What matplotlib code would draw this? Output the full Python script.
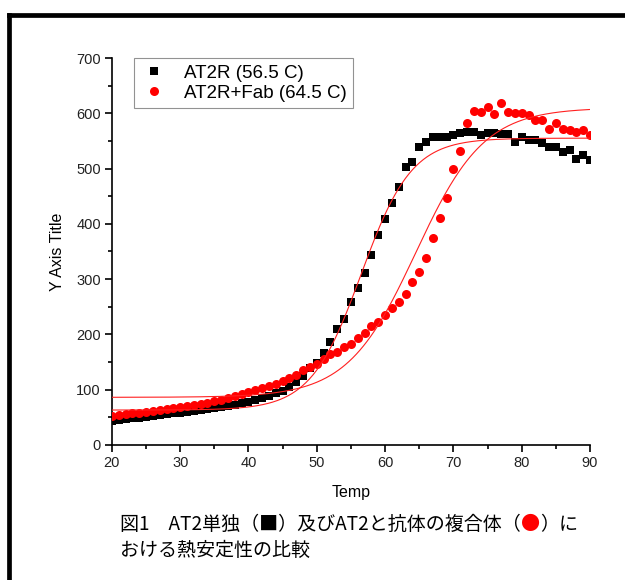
import matplotlib.pyplot as plt
import numpy as np
from matplotlib.lines import Line2D

# temperature axis (one reading per degree)
temp = np.arange(20, 91)

at2r = [43, 45, 46, 48, 49, 51, 52, 54, 55, 57,
        58, 60, 61, 63, 65, 67, 69, 71, 73, 75,
        78, 81, 85, 89, 93, 98, 104, 113, 125, 139,
        149, 166, 187, 209, 228, 259, 284, 311, 343, 380,
        409, 438, 467, 503, 512, 539, 548, 557, 557, 557,
        560, 564, 566, 566, 561, 564, 564, 562, 562, 548,
        557, 551, 551, 546, 539, 539, 530, 533, 517, 524,
        515]

at2r_fab = [52, 54, 55, 57, 58, 60, 61, 63, 64, 66,
            68, 70, 72, 74, 76, 79, 82, 85, 88, 92,
            96, 99, 103, 107, 111, 116, 121, 127, 135, 141,
            146, 155, 164, 168, 177, 183, 194, 202, 215, 222,
            235, 247, 259, 273, 295, 313, 338, 374, 411, 447,
            499, 532, 582, 604, 602, 611, 598, 618, 602, 600,
            600, 597, 588, 588, 571, 582, 571, 570, 566, 570,
            560]

# Boltzmann fit parameters (A1, A2, x0, dx)
fit_at2r = (63, 555, 56.5, 3.7)
fit_fab = (86, 610, 64.5, 5.0)

labels = ['AT2R (56.5 C)', 'AT2R+Fab (64.5 C)']


def boltzmann(x, a1, a2, x0, dx):
    return a2 + (a1 - a2) / (1 + np.exp((x - x0) / dx))


plt.rcParams['font.family'] = ['Liberation Sans', 'DejaVu Sans']

fig = plt.figure(figsize=(6.25, 5.8), dpi=100)
ax = fig.add_axes([0.179, 0.233, 0.765, 0.667])

ax.plot(temp, at2r, 's', color='black', markersize=5.4, label=labels[0],
        markeredgewidth=0, zorder=3)
ax.plot(temp, at2r_fab, 'o', color='#ff0000', markersize=6.5, label=labels[1],
        markeredgewidth=0, zorder=3)

xf = np.linspace(20, 90, 400)
ax.plot(xf, boltzmann(xf, *fit_at2r), color='#ff2020', lw=0.8, zorder=4)
ax.plot(xf, boltzmann(xf, *fit_fab), color='#ff2020', lw=0.8, zorder=4)

ax.set_xlim(20, 90)
ax.set_ylim(0, 700)
ax.set_xticks(range(20, 91, 10))
ax.set_xticks(range(25, 90, 10), minor=True)
ax.set_yticks(range(0, 701, 100))
ax.set_yticks(range(50, 700, 100), minor=True)

for s in ['top', 'right']:
    ax.spines[s].set_visible(False)
for s in ['left', 'bottom']:
    ax.spines[s].set_linewidth(1.2)

ax.tick_params(which='major', direction='out', length=5, width=1.2,
               labelsize=10.5, colors='black', pad=3)
ax.tick_params(which='minor', direction='out', length=3, width=1.2)
for lbl in ax.get_xticklabels() + ax.get_yticklabels():
    lbl.set_color('#222222')

ax.set_xlabel('Temp', fontsize=11.5, labelpad=11)
ax.set_ylabel('Y Axis Title', fontsize=11.5, labelpad=8)

leg = ax.legend(loc='upper left', bbox_to_anchor=(0.046, 1.0), fontsize=13.5,
                frameon=True, fancybox=False, edgecolor='#777777',
                handletextpad=0.9, borderpad=0.35, labelspacing=0.15,
                handlelength=1.4, borderaxespad=0)
leg.get_frame().set_linewidth(0.8)

# thick frame around the figure (left and top only)
fig.add_artist(Line2D([0.0145, 0.0145], [0.0, 0.975], color='black', lw=3.4,
                      transform=fig.transFigure, solid_capstyle='projecting'))
fig.add_artist(Line2D([0.0145, 1.0], [0.975, 0.975], color='black', lw=3.4,
                      transform=fig.transFigure, solid_capstyle='projecting'))

# caption
cjk = ['Noto Sans CJK JP', 'DejaVu Sans']
cap_size = 13.7
t1 = fig.text(0.192, 0.086, '図1\u3000AT2単独（■）及びAT2と抗体の複合体（',
              fontsize=cap_size, family=cjk, va='baseline')
t2 = ax.annotate('●', xy=(1, 0), xycoords=t1, fontsize=cap_size, family=cjk,
                 color='#ff0000', va='bottom', annotation_clip=False)
t3 = ax.annotate('）に', xy=(1, 0), xycoords=t2, fontsize=cap_size, family=cjk,
                 va='bottom', annotation_clip=False)
fig.text(0.192, 0.041, 'おける熱安定性の比較', fontsize=cap_size, family=cjk,
         va='baseline')

fig.savefig('out.png', dpi=100)
